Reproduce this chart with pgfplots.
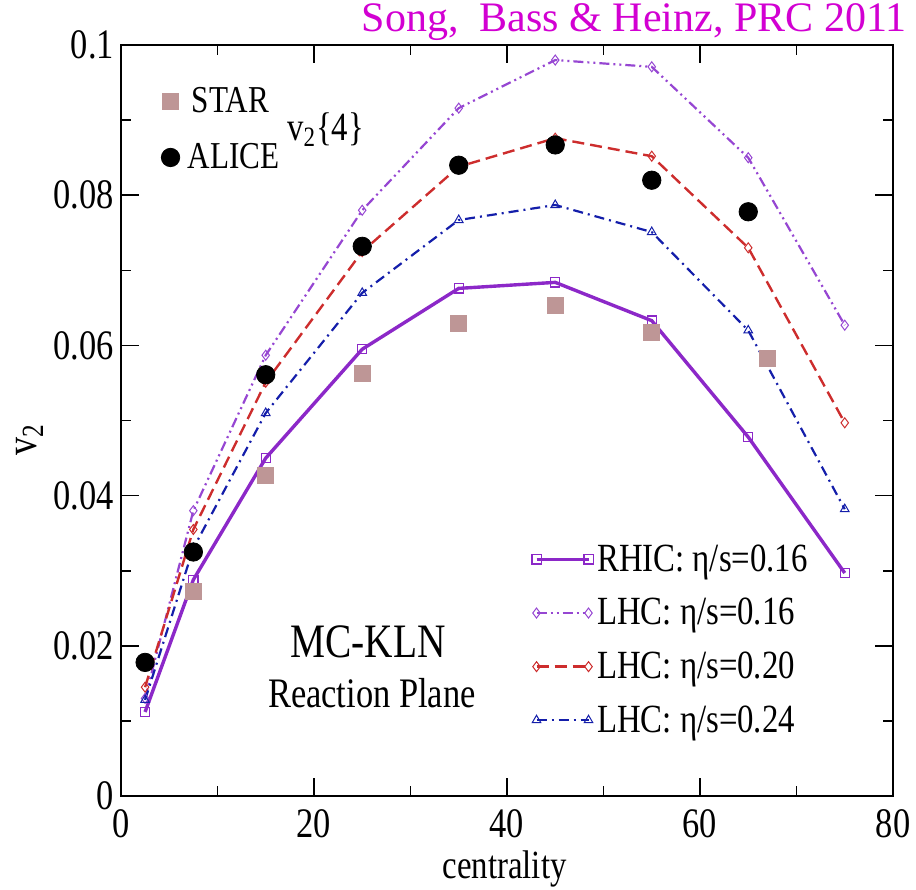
\documentclass[border=0pt]{standalone}
\usepackage{pgfplots}
\pgfplotsset{compat=1.18}
\usepackage{fontspec}
\setmainfont{Liberation Serif}[FakeStretch=0.82]
\newfontfamily\titlefont{Liberation Serif}

\definecolor{rhic}{RGB}{140,40,200}
\definecolor{lhcA}{RGB}{150,70,210}
\definecolor{lhcB}{RGB}{205,45,45}
\definecolor{lhcC}{RGB}{20,30,170}
\definecolor{star}{RGB}{190,150,150}
\definecolor{ttl}{RGB}{210,0,210}

\begin{document}
\begin{tikzpicture}
\pgfplotsset{
  base/.style={width=386pt, height=375.5pt, scale only axis,
    xmin=0, xmax=80, ymin=0, ymax=0.1},
}
\begin{axis}[base,
  xtick={0,20,40,60,80}, minor xtick={10,30,50,70},
  ytick={0,0.02,0.04,0.06,0.08,0.1},
  yticklabels={0,0.02,0.04,0.06,0.08,0.1},
  minor ytick={0.01,0.03,0.05,0.07,0.09},
  tick align=inside, major tick length=9pt, minor tick length=5pt,
  tick style={black, line width=0.8pt},
  axis line style={line width=1pt},
  /pgf/number format/assume math mode=true,
  tick label style={font=\fontsize{21}{24}\selectfont},
  xticklabel style={yshift=-3pt},
  xlabel={centrality},
  xlabel style={at={(rel axis cs:0.497,-0.097)}, anchor=center, font=\fontsize{20}{24}\selectfont},
  ylabel={v\textsubscript{2}},
  ylabel style={at={(rel axis cs:-0.118,0.474)}, anchor=center, font=\fontsize{22}{24}\selectfont},
  legend style={at={(rel axis cs:0.524,0.346)}, anchor=north west, draw=none, fill=none,
    font=\fontsize{20}{24}\selectfont, row sep=8pt},
  legend cell align=left,
  legend image code/.code={\draw[#1] plot coordinates {(0pt,0pt) (26pt,0pt)};},
  clip=false,
]
\addplot[rhic, line width=1.7pt, mark=square, mark size=2.3pt, mark options={solid, line width=0.6pt}]
  coordinates {(2.5,0.0112) (7.5,0.0288) (15,0.0450) (25,0.0595) (35,0.0676) (45,0.0684) (55,0.0633) (65,0.0478) (75,0.0297)};
\addlegendentry{RHIC: η/s=0.16}
\addplot[lhcA, line width=1.1pt, dash pattern=on 5pt off 2pt on 1pt off 2pt on 1pt off 2pt, mark=diamond, mark size=2.5pt, mark options={solid, line width=0.5pt}]
  coordinates {(2.5,0.0130) (7.5,0.0380) (15,0.0587) (25,0.0780) (35,0.0916) (45,0.0980) (55,0.0971) (65,0.0850) (75,0.0627)};
\addlegendentry{LHC: η/s=0.16}
\addplot[lhcB, line width=1.2pt, dash pattern=on 6pt off 3pt, mark=diamond, mark size=2.5pt, mark options={solid, line width=0.5pt}]
  coordinates {(2.5,0.0145) (7.5,0.0355) (15,0.0551) (25,0.0725) (35,0.0838) (45,0.0876) (55,0.0852) (65,0.0730) (75,0.0497)};
\addlegendentry{LHC: η/s=0.20}
\addplot[lhcC, line width=1.1pt, dash pattern=on 5pt off 2.5pt on 1pt off 2.5pt, mark=triangle, mark size=2.5pt, mark options={solid, line width=0.5pt}]
  coordinates {(2.5,0.0128) (7.5,0.0330) (15,0.0510) (25,0.0670) (35,0.0767) (45,0.0787) (55,0.0751) (65,0.0620) (75,0.0382)};
\addlegendentry{LHC: η/s=0.24}

\node[anchor=center, font=\fontsize{24}{27}\selectfont] at (rel axis cs:0.32,0.206) {MC-KLN};
\node[anchor=center, font=\fontsize{21}{24}\selectfont] at (rel axis cs:0.325,0.137) {Reaction Plane};
\node[anchor=center, font=\fontsize{20}{22}\selectfont] at (rel axis cs:0.265,0.887) {v\textsubscript{2}\{4\}};
\node[anchor=north east, text=ttl, font=\titlefont\fontsize{21}{25}\selectfont, inner sep=0pt] at (rel axis cs:1.018,1.056) {Song,\ \ Bass \& Heinz, PRC 2011};

\coordinate (bbl) at (rel axis cs:-0.1567,-0.125);
\coordinate (btr) at (rel axis cs:1.0298,1.06);
\end{axis}

\begin{axis}[base, hide axis,
  legend style={at={(rel axis cs:0.044,0.955)}, anchor=north west, draw=none, fill=none,
    font=\fontsize{19}{22}\selectfont, row sep=10pt},
  legend cell align=left,
  clip=false,
]
\addplot[only marks, mark=square*, mark size=4pt, color=star]
  coordinates {(7.5,0.0272) (15,0.0427) (25,0.0563) (35,0.0630) (45,0.0654) (55,0.0618) (67,0.0583)};
\addlegendentry{\hspace{4pt}STAR}
\addplot[only marks, mark=*, mark size=4.6pt, color=black]
  coordinates {(2.5,0.0178) (7.5,0.0325) (15,0.0561) (25,0.0732) (35,0.0840) (45,0.0867) (55,0.0820) (65,0.0778)};
\addlegendentry{\hspace{2pt}ALICE}
\end{axis}
\pgfresetboundingbox
\path (bbl) rectangle (btr);
\end{tikzpicture}
\end{document}
